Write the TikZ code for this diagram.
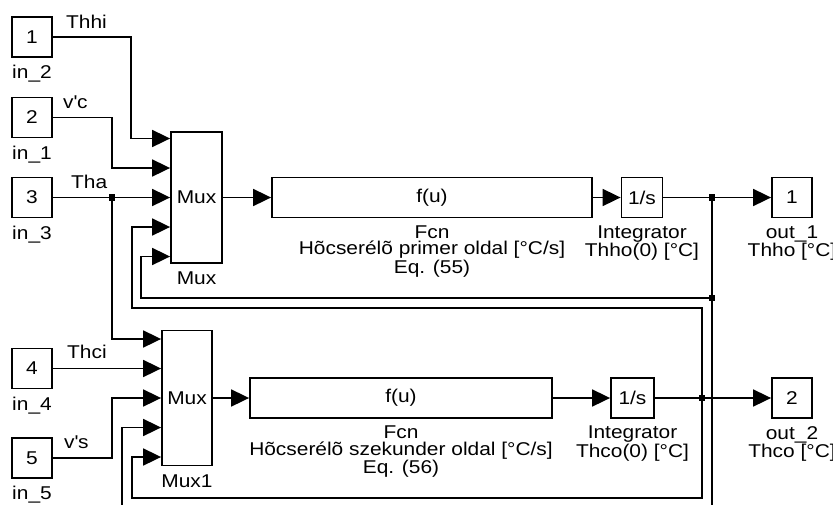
\documentclass[tikz,border=0pt]{standalone}
\usepackage{fontspec}
\setmainfont[FakeStretch=1.13]{Liberation Sans}
\usetikzlibrary{arrows.meta,positioning}

\tikzset{
  blk/.style={draw, line width=1.8pt, minimum height=40pt, inner sep=0pt},
  port/.style={blk, minimum width=40pt},
  lbl/.style={inner sep=0pt, align=center},
  wire/.style={line width=1.8pt},
  sig/.style={wire, -{Triangle[length=18pt,width=17pt]}},
}
% small square marking a branch point
\newcommand{\jdot}[1]{\fill (#1) ++(-3.2,-3.2) rectangle ++(6.4,6.4);}

\begin{document}
\begin{tikzpicture}[x=1pt, y=-1pt, font=\fontsize{18.5}{16.5}\selectfont]
    \useasboundingbox (0,0) rectangle (833,504);

    % inports
    \node[port] (in2) at (32,37) {1};
    \node[port] (in1) at (32,117.5) {2};
    \node[port] (in3) at (32,197.5) {3};
    \node[port] (in4) at (32,368.5) {4};
    \node[port] (in5) at (32,458) {5};
    \node[lbl, below=7pt of in2] {in\_2};
    \node[lbl, below=7pt of in1] {in\_1};
    \node[lbl, below=7pt of in3] {in\_3};
    \node[lbl, below=7pt of in4] {in\_4};
    \node[lbl, below=7pt of in5] {in\_5};

    % muxes
    \node[blk, minimum width=51pt, minimum height=131pt] (mux) at (196.5,197.5) {Mux};
    \node[lbl, below=8pt of mux] {Mux};
    \node[blk, minimum width=50pt, minimum height=135pt] (mux1) at (187,398) {Mux};
    \node[lbl, below=8pt of mux1] {Mux1};
    \foreach \k in {1,...,5} {
        \coordinate (mi\k) at ([yshift={(3-\k)*29.5pt}]mux.west);
        \coordinate (ni\k) at ([yshift={(3-\k)*29.5pt}]mux1.west);
    }

    % primer side
    \node[blk, minimum width=320pt] (fcn1) at (432,197.5) {f(u)};
    \node[lbl, below=7pt of fcn1] {Fcn\\Hõcserélõ primer oldal [°C/s]\\Eq. (55)};
    \node[blk, minimum width=41pt] (int1) at (642,197.5) {1/s};
    \node[lbl, below=7pt of int1] {Integrator\\Thho(0) [°C]};
    \node[port] (out1) at (792,197.5) {1};
    \node[lbl, below=7pt of out1] {out\_1\\Thho [°C]};

    % szekunder side
    \node[blk, minimum width=302pt] (fcn2) at (401,398) {f(u)};
    \node[lbl, below=7pt of fcn2] {Fcn\\Hõcserélõ szekunder oldal [°C/s]\\Eq. (56)};
    \node[blk, minimum width=43pt] (int2) at (632.5,398) {1/s};
    \node[lbl, below=7pt of int2] {Integrator\\Thco(0) [°C]};
    \node[port] (out2) at (792,398) {2};
    \node[lbl, below=7pt of out2] {out\_2\\Thco [°C]};

    % branch points
    \coordinate (j1) at (112,197.5);
    \coordinate (j2) at (712,197.5);
    \coordinate (j3) at (712,298);
    \coordinate (j4) at (702,398);

    % signal names
    \node[anchor=base west, inner sep=0pt] at (66,28) {Thhi};
    \node[anchor=base west, inner sep=0pt] at (63,108) {v\textquotesingle c};
    \node[anchor=base west, inner sep=0pt] at (71,188) {Tha};
    \node[anchor=base west, inner sep=0pt] at (67,358) {Thci};
    \node[anchor=base west, inner sep=0pt] at (64,448) {v\textquotesingle s};

    % inputs
    \draw[sig] (in2.east) -- ++(78,0) |- (mi1);
    \draw[sig] (in1.east) -- ++(59,0) |- (mi2);
    \draw[sig] (in3.east) -- (mi3);
    \draw[sig] (j1) |- (ni1);
    \draw[sig] (in4.east) -- (ni2);
    \draw[sig] (in5.east) -- ++(59,0) |- (ni3);

    % forward paths
    \draw[sig] (mux.east) -- (fcn1.west);
    \draw[sig] (fcn1.east) -- (int1.west);
    \draw[sig] (int1.east) -- (out1.west);
    \draw[sig] (mux1.east) -- (fcn2.west);
    \draw[sig] (fcn2.east) -- (int2.west);
    \draw[sig] (int2.east) -- (out2.west);

    % feedback
    \draw[wire] (j2) -- (j3);
    \draw[sig] (j3) -| ([xshift=-29pt]mi5) -- (mi5);
    \draw[sig] (j3) -- ++(0,215) -| ([xshift=-39pt]ni4) -- (ni4);
    \draw[sig] (j4) -- ++(0,-90) -| ([xshift=-38pt]mi4) -- (mi4);
    \draw[sig] (j4) -- ++(0,100) -| ([xshift=-29pt]ni5) -- (ni5);

    \jdot{j1} \jdot{j2} \jdot{j3} \jdot{j4}
\end{tikzpicture}
\end{document}
